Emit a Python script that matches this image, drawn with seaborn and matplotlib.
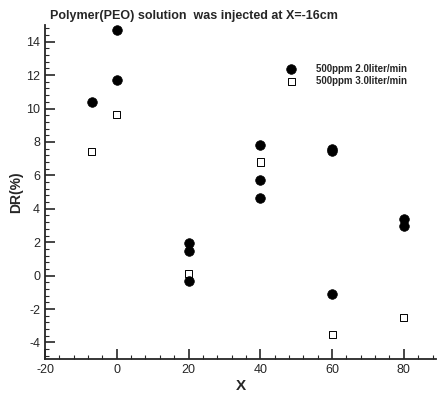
import matplotlib
matplotlib.use("Agg")
import matplotlib.pyplot as plt
import seaborn as sns
import pandas as pd
from matplotlib.ticker import MultipleLocator

sns.set_style("ticks")
plt.rcParams['font.family'] = ['Liberation Sans', 'DejaVu Sans']
plt.rcParams['axes.unicode_minus'] = False

# Series 1: 500ppm 2.0liter/min (filled circles)
x1 = [-7, 0, 0, 20, 20, 20, 40, 40, 40, 60, 60, 60, 80, 80]
y1 = [10.4, 14.7, 11.7, 1.95, 1.5, -0.35, 7.8, 5.7, 4.65, 7.6, 7.45, -1.1, 3.4, 2.95]
# Series 2: 500ppm 3.0liter/min (open squares)
x2 = [-7, 0, 20, 40, 60, 80]
y2 = [7.4, 9.65, 0.1, 6.8, -3.5, -2.5]
labels = ["500ppm 2.0liter/min", "500ppm 3.0liter/min"]

df1 = pd.DataFrame({"X": x1, "DR": y1})
df2 = pd.DataFrame({"X": x2, "DR": y2})

fig = plt.figure(figsize=(4.37, 3.96), dpi=100)
ax = fig.add_axes([0.103, 0.093, 0.895, 0.844])

sns.scatterplot(data=df1, x="X", y="DR", ax=ax, marker="o", s=48,
                color="black", edgecolor="black", linewidth=0.5, label=labels[0])
sns.scatterplot(data=df2, x="X", y="DR", ax=ax, marker="s", s=26,
                facecolor="none", edgecolor="black", linewidth=0.7, label=labels[1])

ax.set_xlim(-20, 89)
ax.set_ylim(-5, 15)
ax.xaxis.set_major_locator(MultipleLocator(20))
ax.xaxis.set_minor_locator(MultipleLocator(4))
ax.yaxis.set_major_locator(MultipleLocator(2))
ax.yaxis.set_minor_locator(MultipleLocator(0.4))
ax.tick_params(which="major", direction="in", length=7, width=1.2, labelsize=9)
ax.tick_params(which="minor", direction="in", length=3, width=0.8)
sns.despine(ax=ax, top=True, right=True)
for sp in ("left", "bottom"):
    ax.spines[sp].set_linewidth(1.3)

ax.set_xlabel("X", fontsize=11, fontweight="bold", labelpad=2)
ax.set_ylabel("DR(%)", fontsize=10, fontweight="bold", labelpad=2)
fig.text(0.114, 0.96, "Polymer(PEO) solution  was injected at X=-16cm",
         ha="left", va="center", fontsize=9, fontweight="bold")

ax.legend(loc="upper left", bbox_to_anchor=(0.595, 0.895), frameon=False,
          prop={"size": 7, "weight": "bold"}, handletextpad=1.5,
          labelspacing=0.2, borderaxespad=0)

fig.savefig("out.png", dpi=100)
